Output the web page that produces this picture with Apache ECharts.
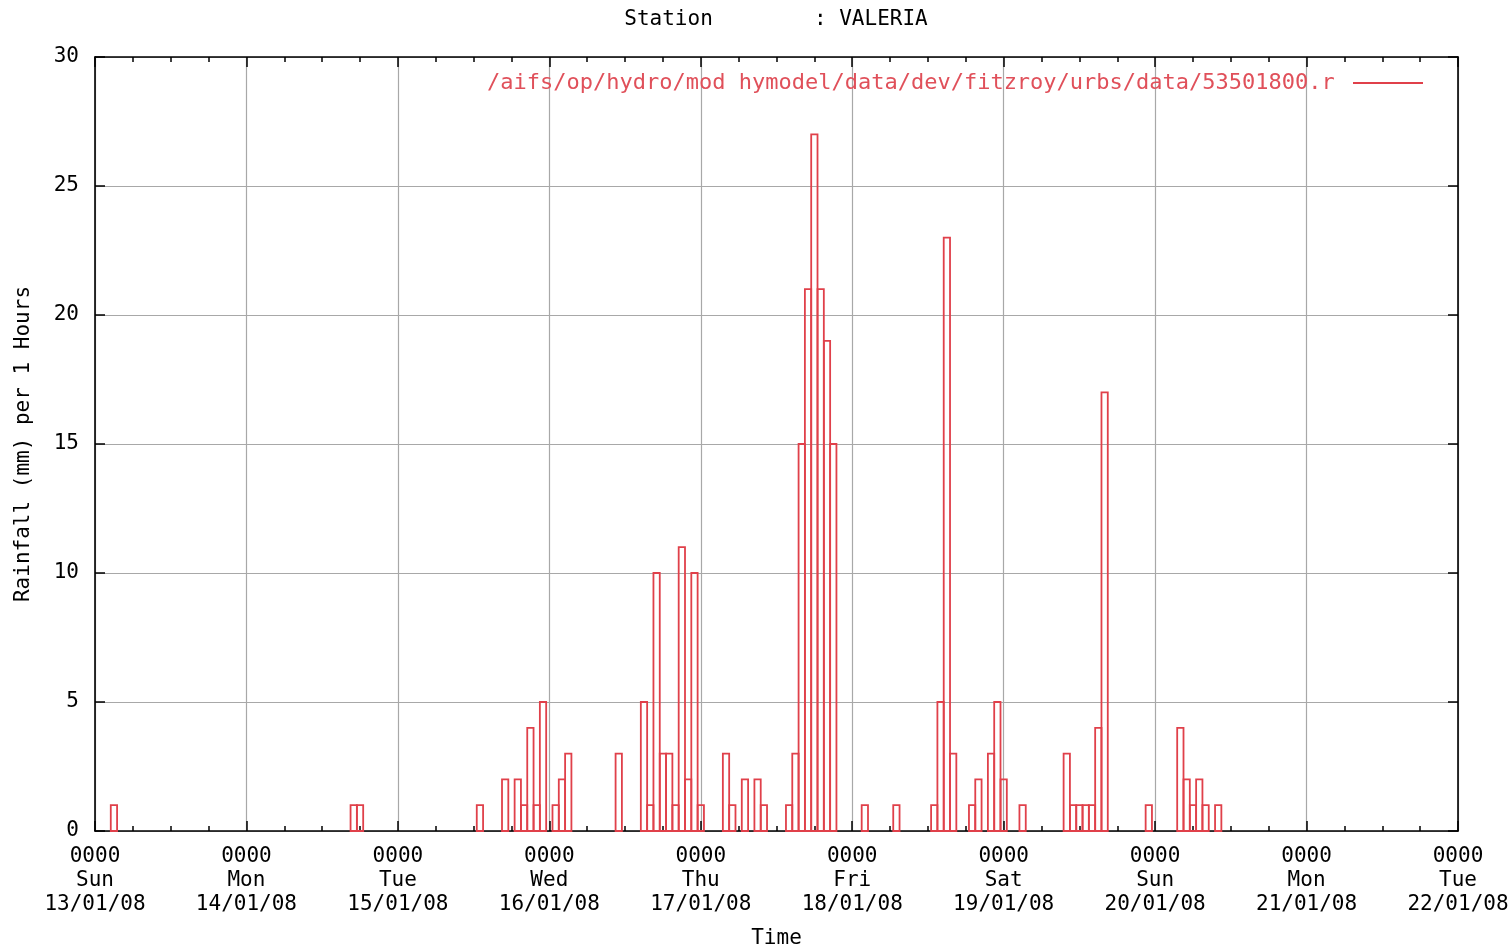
<!DOCTYPE html>
<html><head><meta charset="utf-8">
<script src="https://cdn.jsdelivr.net/npm/echarts@6/dist/echarts.min.js"></script>
<style>html,body{margin:0;padding:0;background:#fff;overflow:hidden}#c{width:1512px;height:946px}</style>
</head><body><div id="c"></div>
<script>
const stationTitle = 'Station        : VALERIA';
const seriesName = '/aifs/op/hydro/mod hymodel/data/dev/fitzroy/urbs/data/53501800.r';
const yAxisTitle = 'Rainfall (mm) per 1 Hours';
const xAxisTitle = 'Time';
const tickTimes = ['0000','0000','0000','0000','0000','0000','0000','0000','0000','0000'];
const tickDays = ['Sun','Mon','Tue','Wed','Thu','Fri','Sat','Sun','Mon','Tue'];
const tickDates = ['13/01/08','14/01/08','15/01/08','16/01/08','17/01/08','18/01/08','19/01/08','20/01/08','21/01/08','22/01/08'];
// hour index (from Sun 13/01/08 0000) and rainfall (mm)
const hours = [3,41,42,61,65,67,68,69,70,71,73,74,75,83,87,88,89,90,91,92,93,94,95,96,100,101,103,105,106,110,111,112,113,114,115,116,117,122,127,133,134,135,136,139,140,142,143,144,147,154,155,156,157,158,159,160,167,172,173,174,175,176,178];
const rain  = [1,1,1,1,2,2,1,4,1,5,1,2,3,3,5,1,10,3,3,1,11,2,10,1,3,1,2,2,1,1,3,15,21,27,21,19,15,1,1,1,5,23,3,1,2,3,5,2,1,3,1,1,1,1,4,17,1,4,2,1,2,1,1];

const RED = '#e0404a';
const FONT = 'DejaVu Sans Mono';
const FS = 21;
const data = hours.map((h, i) => [h, rain[i]]);

const chart = echarts.init(document.getElementById('c'), null, {renderer: 'canvas'});
function axisLineStyle() { return {show: true, onZero: false, lineStyle: {color: '#000', width: 1.6}}; }
function majorTick() { return {show: true, inside: true, length: 10, lineStyle: {color: '#000', width: 1.5}}; }
function minorTick() { return {show: true, splitNumber: 4, length: 5, lineStyle: {color: '#000', width: 1.5}}; }
chart.setOption({
  animation: false,
  backgroundColor: '#fff',
  graphic: [{
    type: 'text', x: 776, y: 20,
    style: {text: stationTitle, textAlign: 'center', textVerticalAlign: 'middle',
      font: FS + 'px "' + FONT + '"', fill: '#000'}
  }],
  grid: {left: 95, right: 54, top: 57, bottom: 115, show: false, containLabel: false, outerBoundsMode: 'none'},
  legend: {
    data: [{name: seriesName, icon: 'rect'}],
    right: 84, top: 67, align: 'right',
    itemWidth: 70, itemHeight: 2,
    formatter: n => n + ' ',
    textStyle: {color: '#e0505a', fontFamily: FONT, fontSize: 22}
  },
  xAxis: [{
    type: 'value', min: 0, max: 216, interval: 24, position: 'bottom',
    axisLine: axisLineStyle(), axisTick: majorTick(), minorTick: minorTick(),
    splitLine: {show: true, lineStyle: {color: '#a8a8a8', width: 1.2}},
    axisLabel: {
      show: true, inside: false, margin: 14, color: '#000', fontFamily: FONT, fontSize: FS, lineHeight: 24,
      showMinLabel: true, showMaxLabel: true, hideOverlap: false,
      formatter: v => { const d = Math.round(v / 24); return tickTimes[d] + '\n' + tickDays[d] + '\n' + tickDates[d]; }
    },
    name: xAxisTitle, nameLocation: 'middle', nameGap: 97,
    nameTextStyle: {color: '#000', fontFamily: FONT, fontSize: FS}
  }, {
    type: 'value', min: 0, max: 216, interval: 24, position: 'top',
    axisLine: axisLineStyle(), axisTick: majorTick(), minorTick: minorTick(),
    splitLine: {show: false}, axisLabel: {show: false}
  }],
  yAxis: [{
    type: 'value', min: 0, max: 30, interval: 5, position: 'left',
    axisLine: axisLineStyle(), axisTick: majorTick(),
    splitLine: {show: true, lineStyle: {color: '#a8a8a8', width: 1.2}},
    axisLabel: {show: true, inside: false, margin: 16, color: '#000', fontFamily: FONT, fontSize: FS},
    name: yAxisTitle, nameLocation: 'middle', nameGap: 61, nameRotate: 90,
    nameTextStyle: {color: '#000', fontFamily: FONT, fontSize: FS}
  }, {
    type: 'value', min: 0, max: 30, interval: 5, position: 'right',
    axisLine: axisLineStyle(), axisTick: majorTick(),
    splitLine: {show: false}, axisLabel: {show: false}
  }],
  series: [{
    name: seriesName,
    type: 'custom',
    xAxisIndex: 0, yAxisIndex: 0,
    itemStyle: {color: RED},
    encode: {x: 0, y: 1},
    data: data,
    renderItem: function (params, api) {
      const h = api.value(0), v = api.value(1);
      const p0 = api.coord([h - 0.5, v]);
      const p1 = api.coord([h + 0.5, 0]);
      return {
        type: 'rect',
        shape: {x: p0[0], y: p0[1], width: p1[0] - p0[0], height: p1[1] - p0[1]},
        style: {fill: 'none', stroke: RED, lineWidth: 1.8}
      };
    }
  }]
});
</script>
</body></html>
